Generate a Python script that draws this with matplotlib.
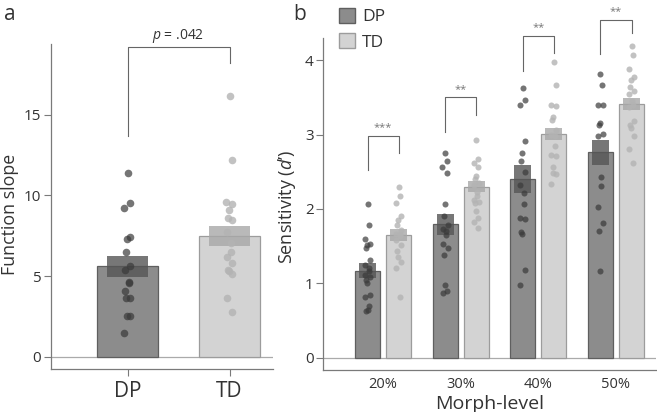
import numpy as np
import matplotlib
matplotlib.use("Agg")
import matplotlib.pyplot as plt
from matplotlib.patches import Patch

plt.rcParams['font.family'] = ['Open Sans', 'DejaVu Sans']
plt.rcParams['mathtext.fontset'] = 'custom'
plt.rcParams['mathtext.rm'] = 'Open Sans'
plt.rcParams['mathtext.it'] = 'Open Sans:italic'

# ---- data, panel a (function slope) ----
groups_a = ['DP', 'TD']
slope_mean = [5.6, 7.5]
slope_se = [0.65, 0.62]
slope_dp = [11.4, 9.55, 9.2, 7.45, 7.3, 6.5, 5.6, 5.4, 4.65, 4.55, 4.05, 3.65, 3.65, 2.5, 2.5, 1.5]
slope_td = [16.2, 12.2, 9.6, 9.45, 9.1, 8.6, 8.45, 7.75, 7.05, 6.5, 6.2, 5.8, 5.4, 5.3, 5.15, 3.65, 2.8]
p_text = '$p$ = .042'

# ---- data, panel b (sensitivity d') ----
morph = ['20%', '30%', '40%', '50%']
dp_mean = [1.17, 1.795, 2.405, 2.76]
td_mean = [1.65, 2.30, 3.005, 3.41]
dp_se = [0.10, 0.14, 0.19, 0.17]
td_se = [0.075, 0.077, 0.083, 0.083]
dp_pts = [
    [2.07, 1.79, 1.59, 1.53, 1.51, 1.47, 1.31, 1.25, 1.2, 1.16, 1.11, 1.09, 1.05, 1.0, 0.84, 0.81, 0.70, 0.64, 0.63],
    [2.75, 2.64, 2.57, 2.48, 2.06, 1.90, 1.79, 1.73, 1.70, 1.65, 1.53, 1.47, 1.38, 0.98, 0.90, 0.87],
    [3.62, 3.46, 3.40, 2.92, 2.75, 2.64, 2.50, 2.32, 2.22, 2.07, 1.88, 1.87, 1.69, 1.67, 1.18, 0.98],
    [3.82, 3.67, 3.40, 3.40, 3.15, 3.13, 3.01, 2.98, 2.43, 2.31, 2.02, 1.81, 1.70, 1.17],
]
td_pts = [
    [2.29, 2.17, 2.08, 1.90, 1.85, 1.79, 1.72, 1.67, 1.65, 1.63, 1.58, 1.52, 1.43, 1.36, 1.29, 1.21, 0.82],
    [2.93, 2.67, 2.62, 2.56, 2.44, 2.40, 2.35, 2.32, 2.23, 2.17, 2.12, 2.10, 2.08, 1.97, 1.88, 1.83, 1.74],
    [3.98, 3.67, 3.40, 3.38, 3.24, 3.19, 3.06, 3.00, 2.98, 2.85, 2.73, 2.71, 2.57, 2.49, 2.47, 2.34],
    [4.19, 4.07, 3.88, 3.77, 3.73, 3.64, 3.58, 3.54, 3.45, 3.40, 3.37, 3.18, 3.13, 3.09, 2.98, 2.80, 2.62],
]
stars = ['***', '**', '**', '**']
# bracket: top, left leg end, right leg end
brackets = [(2.985, 2.52, 2.75), (3.505, 3.03, 3.27), (4.33, 3.86, 4.10), (4.545, 4.08, 4.37)]

# ---- styling ----
DP_BAR, DP_EDGE, DP_SE, DP_DOT = '#8c8c8c', '#5f5f5f', '#555555', '#3a3a3a'
TD_BAR, TD_EDGE, TD_SE, TD_DOT = '#d3d3d3', '#9c9c9c', '#a8a8a8', '#b3b3b3'
SPINE = '#7a7a7a'
TXT = '#333333'


def jitter(n, amp):
    return amp * np.sin(np.arange(n) * 2.4)


def style_axes(ax):
    for s in ['top', 'right']:
        ax.spines[s].set_visible(False)
    for s in ['left', 'bottom']:
        ax.spines[s].set_color(SPINE)
        ax.spines[s].set_linewidth(0.9)
    ax.tick_params(axis='y', colors=SPINE, labelcolor=TXT, length=5, width=0.8, pad=2)
    ax.axhline(0, color='#aaaaaa', lw=0.9, zorder=0.5)


fig = plt.figure(figsize=(6.57, 4.12), dpi=100)

# ================= panel a =================
ax1 = fig.add_axes([0.0772, 0.1044, 0.338, 0.789])
xa = np.arange(len(groups_a))
wa = 0.594
ax1.bar(xa, slope_mean, width=wa, color=[DP_BAR, TD_BAR], edgecolor=[DP_EDGE, TD_EDGE], lw=0.9, zorder=1)
for xi, m, se, c in zip(xa, slope_mean, slope_se, [DP_SE, TD_SE]):
    ax1.bar(xi, 2 * se, bottom=m - se, width=0.41, color=c, alpha=0.8, lw=0, zorder=2)
ax1.scatter(xa[0] + jitter(len(slope_dp), 0.03), slope_dp, s=30, color=DP_DOT, alpha=0.7, lw=0, zorder=3)
ax1.scatter(xa[1] + jitter(len(slope_td), 0.03), slope_td, s=30, color=TD_DOT, alpha=0.8, lw=0, zorder=3)

ax1.plot([xa[0], xa[0], xa[1], xa[1]], [13.7, 19.2, 19.2, 18.2], color='#666666', lw=0.8, clip_on=False)
ax1.text((xa[0] + xa[1]) / 2, 19.35, p_text, ha='center', va='bottom', fontsize=10, color=TXT)

ax1.set_xlim(-0.753, 1.424)
ax1.set_ylim(-0.76, 19.4)
ax1.set_yticks([0, 5, 10, 15])
ax1.set_xticks(xa)
ax1.set_xticklabels(groups_a)
style_axes(ax1)
ax1.tick_params(axis='y', labelsize=11)
ax1.tick_params(axis='x', colors=SPINE, labelcolor=TXT, length=5, width=0.8, labelsize=15, pad=4)
ax1.set_ylabel('Function slope', fontsize=12.8, color=TXT)
ax1.yaxis.set_label_coords(-0.143, 0.475)

# ================= panel b =================
ax2 = fig.add_axes([0.492, 0.102, 0.507, 0.806])
xb = np.arange(len(morph))
off, wb, wse = 0.2, 0.32, 0.22
ax2.bar(xb - off, dp_mean, width=wb, color=DP_BAR, edgecolor=DP_EDGE, lw=0.9, zorder=1)
ax2.bar(xb + off, td_mean, width=wb, color=TD_BAR, edgecolor=TD_EDGE, lw=0.9, zorder=1)
for i in range(len(morph)):
    ax2.bar(xb[i] - off, 2 * dp_se[i], bottom=dp_mean[i] - dp_se[i], width=wse, color=DP_SE, alpha=0.8, lw=0, zorder=2)
    ax2.bar(xb[i] + off, 2 * td_se[i], bottom=td_mean[i] - td_se[i], width=wse, color=TD_SE, alpha=0.8, lw=0, zorder=2)
    ax2.scatter(xb[i] - off + jitter(len(dp_pts[i]), 0.035), dp_pts[i], s=19, color=DP_DOT, alpha=0.7, lw=0, zorder=3)
    ax2.scatter(xb[i] + off + jitter(len(td_pts[i]), 0.035), td_pts[i], s=19, color=TD_DOT, alpha=0.8, lw=0, zorder=3)
    top, yl, yr = brackets[i]
    ax2.plot([xb[i] - off, xb[i] - off, xb[i] + off, xb[i] + off], [yl, top, top, yr],
             color='#666666', lw=0.8, clip_on=False)
    ax2.text(xb[i], top + 0.03, stars[i], ha='center', va='bottom', fontsize=8, color='#777777')

ax2.set_xlim(-0.771, 3.52)
ax2.set_ylim(-0.165, 4.3)
ax2.set_yticks([0, 1, 2, 3, 4])
ax2.set_xticks(xb)
ax2.set_xticklabels(morph)
style_axes(ax2)
ax2.tick_params(axis='y', labelsize=11)
ax2.tick_params(axis='x', length=0, labelsize=10.5, labelcolor=TXT, pad=5)
ax2.set_xlabel('Morph-level', fontsize=14, color=TXT, labelpad=2)
ax2.set_ylabel('Sensitivity ($d$’)', fontsize=13, color=TXT)
ax2.yaxis.set_label_coords(-0.075, 0.49)

handles = [Patch(facecolor=DP_BAR, edgecolor=DP_EDGE, label='DP'),
           Patch(facecolor=TD_BAR, edgecolor=TD_EDGE, label='TD')]
ax2.legend(handles=handles, loc='upper left', bbox_to_anchor=(0.047, 1.09), frameon=False,
           fontsize=12.5, handlelength=0.95, handleheight=0.95, handletextpad=0.4,
           labelspacing=0.45, borderpad=0, borderaxespad=0, labelcolor=TXT)

fig.text(0.006, 0.99, 'a', fontsize=15, va='top', color=TXT)
fig.text(0.447, 0.99, 'b', fontsize=15, va='top', color=TXT)

fig.savefig('out.png', dpi=100)
